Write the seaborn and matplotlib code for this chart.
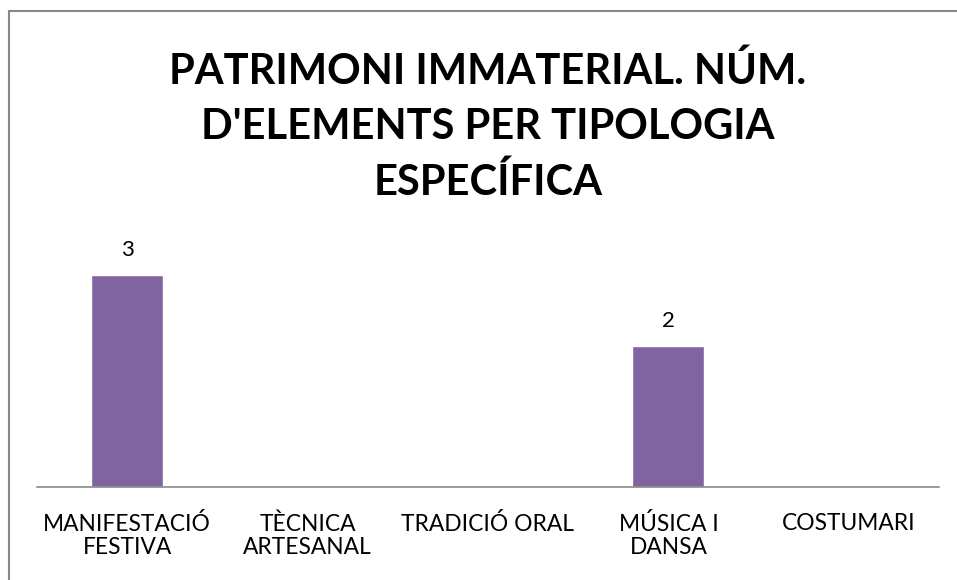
import matplotlib
matplotlib.use("Agg")
import matplotlib.pyplot as plt
import seaborn as sns
import pandas as pd
from matplotlib.patches import Rectangle

# chart data
categories = ["MANIFESTACIÓ\nFESTIVA", "TÈCNICA\nARTESANAL", "TRADICIÓ ORAL", "MÚSICA I\nDANSA", "COSTUMARI"]
values = [3, 0, 0, 2, 0]
title = "PATRIMONI IMMATERIAL. NÚM.\nD'ELEMENTS PER TIPOLOGIA\nESPECÍFICA"

df = pd.DataFrame({"tipologia": categories, "elements": values})

sns.set_style("white")
plt.rcParams["font.family"] = ["Lato", "DejaVu Sans"]

fig = plt.figure(figsize=(9.57, 5.8), dpi=100)
ax = fig.add_axes([37 / 957, 93 / 580, 902 / 957, 247.5 / 580])

sns.barplot(data=df, x="tipologia", y="elements", color="#8064A2", width=0.4,
            saturation=1, ax=ax)
ax.set_ylim(0, 3.5)
ax.set_xlim(-0.5, len(categories) - 0.5)

# value labels (only non-zero bars)
for i, v in enumerate(values):
    if v > 0:
        ax.annotate(str(v), (i, v), xytext=(0, 18), textcoords="offset points",
                    ha="center", va="center", fontsize=16, color="black")

ax.set_xlabel("")
ax.set_ylabel("")
ax.set_yticks([])
ax.tick_params(axis="x", length=0, pad=19, labelsize=16.4, colors="black")
for side in ["top", "right", "left"]:
    ax.spines[side].set_visible(False)
ax.spines["bottom"].set_color("#898989")
ax.spines["bottom"].set_linewidth(1.2)
for lbl in ax.get_xticklabels():
    lbl.set_linespacing(1.1)

fig.text(488 / 957, 1 - 127 / 580, title, ha="center", va="center",
         fontsize=30, fontweight="bold", linespacing=1.53, color="black")

# outer chart border
fig.patches.append(Rectangle((8.5 / 957, -0.01), 1.0, 1 - 10.5 / 580 + 0.01,
                             transform=fig.transFigure, fill=False,
                             edgecolor="#888888", linewidth=1.5))

fig.savefig("out.png", dpi=100)
